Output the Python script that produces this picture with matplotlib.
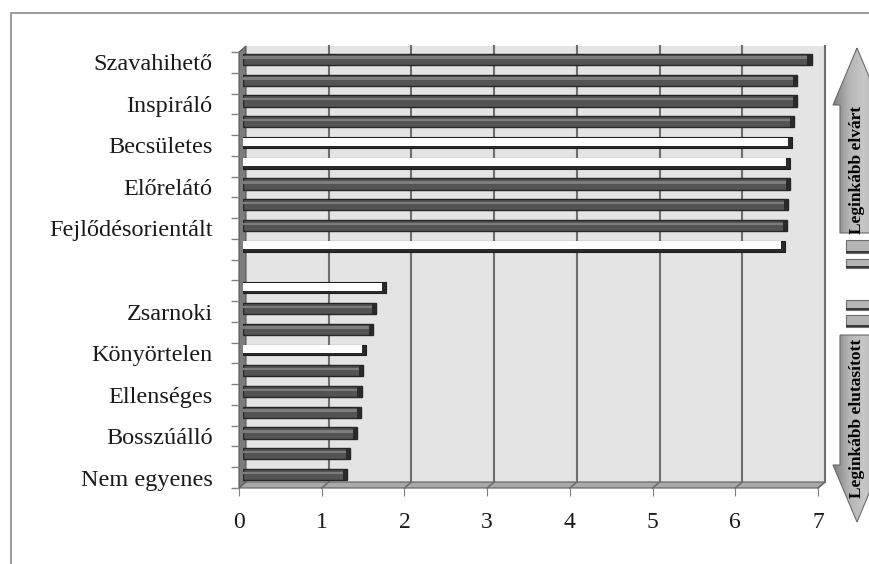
import matplotlib.pyplot as plt
import numpy as np
from matplotlib.patches import Polygon, Rectangle
from matplotlib.colors import LinearSegmentedColormap

plt.rcParams['font.family'] = ['Liberation Serif', 'DejaVu Serif']

# data: ten most expected and ten most rejected traits (only every other label is shown)
labels_top = ["Szavahihető", "", "Inspiráló", "", "Becsületes", "", "Előrelátó", "", "Fejlődésorientált", ""]
values_top = [6.88, 6.70, 6.70, 6.67, 6.64, 6.62, 6.62, 6.60, 6.58, 6.56]
white_top = [0, 0, 0, 0, 1, 1, 0, 0, 0, 1]

labels_bottom = ["", "Zsarnoki", "", "Könyörtelen", "", "Ellenséges", "", "Bosszúálló", "", "Nem egyenes"]
values_bottom = [1.74, 1.61, 1.58, 1.49, 1.46, 1.44, 1.43, 1.38, 1.30, 1.26]
white_bottom = [1, 0, 0, 1, 0, 0, 0, 0, 0, 0]

x_ticks = [0, 1, 2, 3, 4, 5, 6, 7]

# one empty slot between the two groups
labels = labels_top + [""] + labels_bottom
values = values_top + [None] + values_bottom
whites = white_top + [0] + white_bottom
pos = np.arange(len(labels))

W, H = 870, 564
fig = plt.figure(figsize=(W / 100, H / 100), dpi=100)


def box(l, t, r, b):
    return [l / W, 1 - b / H, (r - l) / W, (b - t) / H]


front = (239, 52, 818, 488)
depth_x, depth_y = 7, -6
back = (front[0] + depth_x, front[1] + depth_y, front[2] + depth_x, front[3] + depth_y)
mid = (front[0] + depth_x / 2, front[1] + depth_y / 2, front[2] + depth_x / 2, front[3] + depth_y / 2)
ylim = (len(labels) - 0.5, -0.5)

# back wall with grid
ax_back = fig.add_axes(box(*back), zorder=0)
ax_back.set_facecolor('#e4e4e4')
ax_back.set_xlim(0, 7)
ax_back.set_ylim(*ylim)
for x in x_ticks[1:]:
    ax_back.axvline(x, color='#6e6e6e', lw=1.5, clip_on=False)
ax_back.set_xticks([])
ax_back.set_yticks([])
for s in ax_back.spines.values():
    s.set_visible(False)

# decorations in pixel coordinates
deco = fig.add_axes([0, 0, 1, 1], zorder=1)
deco.set_xlim(0, W)
deco.set_ylim(H, 0)
deco.axis('off')

deco.add_patch(Polygon([(front[0], front[1]), (back[0], back[1]), (back[0], back[3]), (front[0], front[3])],
                       closed=True, fc='#7c7c7c', ec='#555555', lw=0.8))
deco.add_patch(Polygon([(front[0], front[3]), (back[0], back[3]), (back[2], back[3]), (front[2], front[3])],
                       closed=True, fc='#a9a9a9', ec='#5e5e5e', lw=0.8))
unit = (front[2] - front[0]) / 7
for x in x_ticks[1:]:
    deco.plot([back[0] + x * unit, front[0] + x * unit], [back[3], front[3]], color='#6e6e6e', lw=1.2)

# outer frame
deco.plot([11, 11, W], [H, 13, 13], color='#8a8a8a', lw=1.2)

# double arrow on the right
grad = LinearSegmentedColormap.from_list('g', ['#7e7e7e', '#b5b5b5', '#c8c8c8', '#a0a0a0'])
arrow_up = Polygon([(857, 48), (881, 105), (874, 105), (874, 233), (840, 233), (840, 105), (833, 105)],
                   closed=True, fc='none', ec='#6a6a6a', lw=0.8)
arrow_down = Polygon([(840, 335), (874, 335), (874, 465), (881, 465), (857, 522), (833, 465), (840, 465)],
                     closed=True, fc='none', ec='#6a6a6a', lw=0.8)
for poly in (arrow_up, arrow_down):
    deco.add_patch(poly)
    im = deco.imshow(np.linspace(0, 1, 64).reshape(1, -1), cmap=grad, aspect='auto',
                     extent=(833, 881, 530, 40), zorder=0.5)
    im.set_clip_path(poly)
for (y0, h) in [(240, 13), (259, 9), (300, 10), (315, 12)]:
    deco.add_patch(Rectangle((846, y0), 24, h, fc='#b5b5b5', ec='#6e6e6e', lw=0.8))
    deco.add_patch(Rectangle((846, y0 + h - 2.5), 24, 2.5, fc='#3a3a3a', lw=0))
deco.text(857, 170, "Leginkább elvárt", rotation=90, ha='center', va='center',
          fontsize=12.5, fontweight='bold')
deco.text(857, 418, "Leginkább elutasított", rotation=90, ha='center', va='center',
          fontsize=12.5, fontweight='bold')
deco.set_xlim(0, W)
deco.set_ylim(H, 0)

# bars
ax_mid = fig.add_axes(box(*mid), zorder=2)
ax_mid.set_xlim(0, 7)
ax_mid.set_ylim(*ylim)
ax_mid.axis('off')
for y, v, w in zip(pos, values, whites):
    if v is None:
        continue
    if w:
        ax_mid.barh(y, v, height=0.52, color='#2a2a2a', ec='#1e1e1e', lw=0.8)
        ax_mid.barh(y - 0.04, v - 0.05, height=0.38, color='white', lw=0)
    else:
        ax_mid.barh(y, v, height=0.54, color='#545454', ec='#262626', lw=1)
        ax_mid.barh(y - 0.08, v - 0.05, height=0.12, color='#7d7d7d', lw=0)
        ax_mid.barh(y, 0.05, left=v - 0.05, height=0.54, color='#2a2a2a', lw=0)

# front plane: ticks and labels
ax = fig.add_axes(box(*front), zorder=3)
ax.set_facecolor('none')
ax.set_xlim(0, 7)
ax.set_ylim(*ylim)
for s in ax.spines.values():
    s.set_visible(False)
ax.set_xticks(x_ticks)
ax.set_xticklabels([str(t) for t in x_ticks])
ax.tick_params(axis='x', length=6, color='#808080', labelsize=17, pad=11, labelcolor='#1a1a1a')
ax.set_yticks(pos)
ax.set_yticklabels(labels)
ax.set_yticks(np.arange(len(labels) + 1) - 0.5, minor=True)
ax.tick_params(axis='y', which='major', length=0, labelsize=17.5, pad=19, labelcolor='#1a1a1a')
ax.tick_params(axis='y', which='minor', length=6, color='#808080', width=1)

fig.savefig('out.png', dpi=100)
